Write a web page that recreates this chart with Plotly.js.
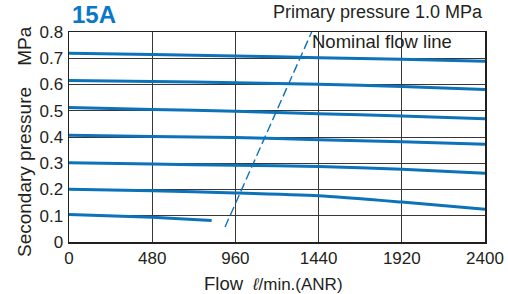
<!DOCTYPE html>
<html>
<head>
<meta charset="utf-8">
<script src="https://cdn.plot.ly/plotly-3.0.1.min.js"></script>
<style>html,body{margin:0;padding:0;background:#fff;}#chart{width:508px;height:294px;}</style>
</head>
<body>
<div id="chart"></div>
<script>
const flowTicks = [0, 480, 960, 1440, 1920, 2400];
const pressureTicks = [0, 0.1, 0.2, 0.3, 0.4, 0.5, 0.6, 0.7, 0.8];
const pressureTickLabels = ["0", "0.1", "0.2", "0.3", "0.4", "0.5", "0.6", "0.7", "0.8"];

const flowPts = [0, 480, 960, 1440, 1920, 2400];
const set07 = [0.719, 0.714, 0.709, 0.702, 0.696, 0.689];
const set06 = [0.615, 0.611, 0.607, 0.601, 0.592, 0.581];
const set05 = [0.512, 0.505, 0.498, 0.489, 0.480, 0.470];
const set04 = [0.407, 0.402, 0.398, 0.390, 0.382, 0.372];
const set03 = [0.302, 0.297, 0.292, 0.288, 0.277, 0.262];
const set02 = [0.201, 0.195, 0.187, 0.176, 0.152, 0.125];
const flow01 = [0, 480, 823];
const set01 = [0.105, 0.094, 0.082];

const nominalFlow = [900, 1400];
const nominalPressure = [0.057, 0.8];

const blue = '#0c72ba';
const ink = '#231f20';
const font = 'Arial, "Liberation Sans", sans-serif';

const curves = [set07, set06, set05, set04, set03, set02].map(y => ({
  x: flowPts, y: y, mode: 'lines', type: 'scatter',
  line: {color: blue, width: 3, shape: 'spline', smoothing: 0.6},
  hoverinfo: 'skip', showlegend: false
}));
curves.push({
  x: flow01, y: set01, mode: 'lines', type: 'scatter',
  line: {color: blue, width: 3, shape: 'spline', smoothing: 0.6},
  hoverinfo: 'skip', showlegend: false
});
curves.push({
  x: nominalFlow, y: nominalPressure, mode: 'lines', type: 'scatter',
  line: {color: blue, width: 1.4, dash: '9px,4px'},
  hoverinfo: 'skip', showlegend: false
});

const layout = {
  width: 508, height: 294,
  margin: {l: 69, r: 23, t: 32, b: 52},
  paper_bgcolor: '#fff', plot_bgcolor: '#fff',
  font: {family: font, color: ink, size: 17},
  xaxis: {
    range: [0, 2400], tickvals: flowTicks, ticktext: flowTicks.map(String),
    showgrid: true, gridcolor: '#3a3536', gridwidth: 1,
    showline: true, linecolor: ink, linewidth: 1.5, mirror: true,
    zeroline: false, ticks: '', ticklabelstandoff: 0,
    tickfont: {size: 17, color: ink}
  },
  yaxis: {
    range: [0, 0.8], tickvals: pressureTicks, ticktext: pressureTickLabels,
    showgrid: true, gridcolor: '#3a3536', gridwidth: 1,
    showline: true, linecolor: ink, linewidth: 1.5, mirror: true,
    zeroline: false, ticks: '', ticklabelstandoff: 1,
    tickfont: {size: 17, color: ink}
  },
  annotations: [
    {text: '<b>15A</b>', xref: 'paper', yref: 'paper', x: (70 - 69) / 416, y: (242 - 14) / 210,
     xanchor: 'left', yanchor: 'middle', showarrow: false,
     font: {size: 24, color: '#0a78c8', family: font}},
    {text: 'Primary pressure 1.0 MPa', xref: 'paper', yref: 'paper', x: 1, y: (242 - 12) / 210,
     xanchor: 'right', yanchor: 'middle', showarrow: false,
     font: {size: 18, color: ink, family: font}},
    {text: 'Nominal flow line', xref: 'x', yref: 'y', x: 1392, y: 0.762, xanchor: 'left', yanchor: 'middle',
     showarrow: false, font: {size: 18.5, color: ink, family: font}},
    {text: 'Secondary pressure\u00a0\u00a0\u00a0\u00a0MPa', xref: 'paper', yref: 'paper', x: (24 - 69) / 416, y: (242 - 142) / 210,
     xanchor: 'center', yanchor: 'middle', textangle: -90, showarrow: false,
     font: {size: 19, color: ink, family: font}},
    {text: 'Flow', xref: 'paper', yref: 'paper', x: (202 - 69) / 416, y: -(283 - 242) / 210,
     xanchor: 'left', yanchor: 'middle', showarrow: false,
     font: {size: 18.5, color: ink, family: font}},
    {text: '<i>ℓ</i>/min.(ANR)', xref: 'paper', yref: 'paper', x: (250 - 69) / 416, y: -(284 - 242) / 210,
     xanchor: 'left', yanchor: 'middle', showarrow: false,
     font: {size: 17, color: ink, family: font}}
  ]
};

Plotly.newPlot('chart', curves, layout, {staticPlot: true, displayModeBar: false});
</script>
</body>
</html>
